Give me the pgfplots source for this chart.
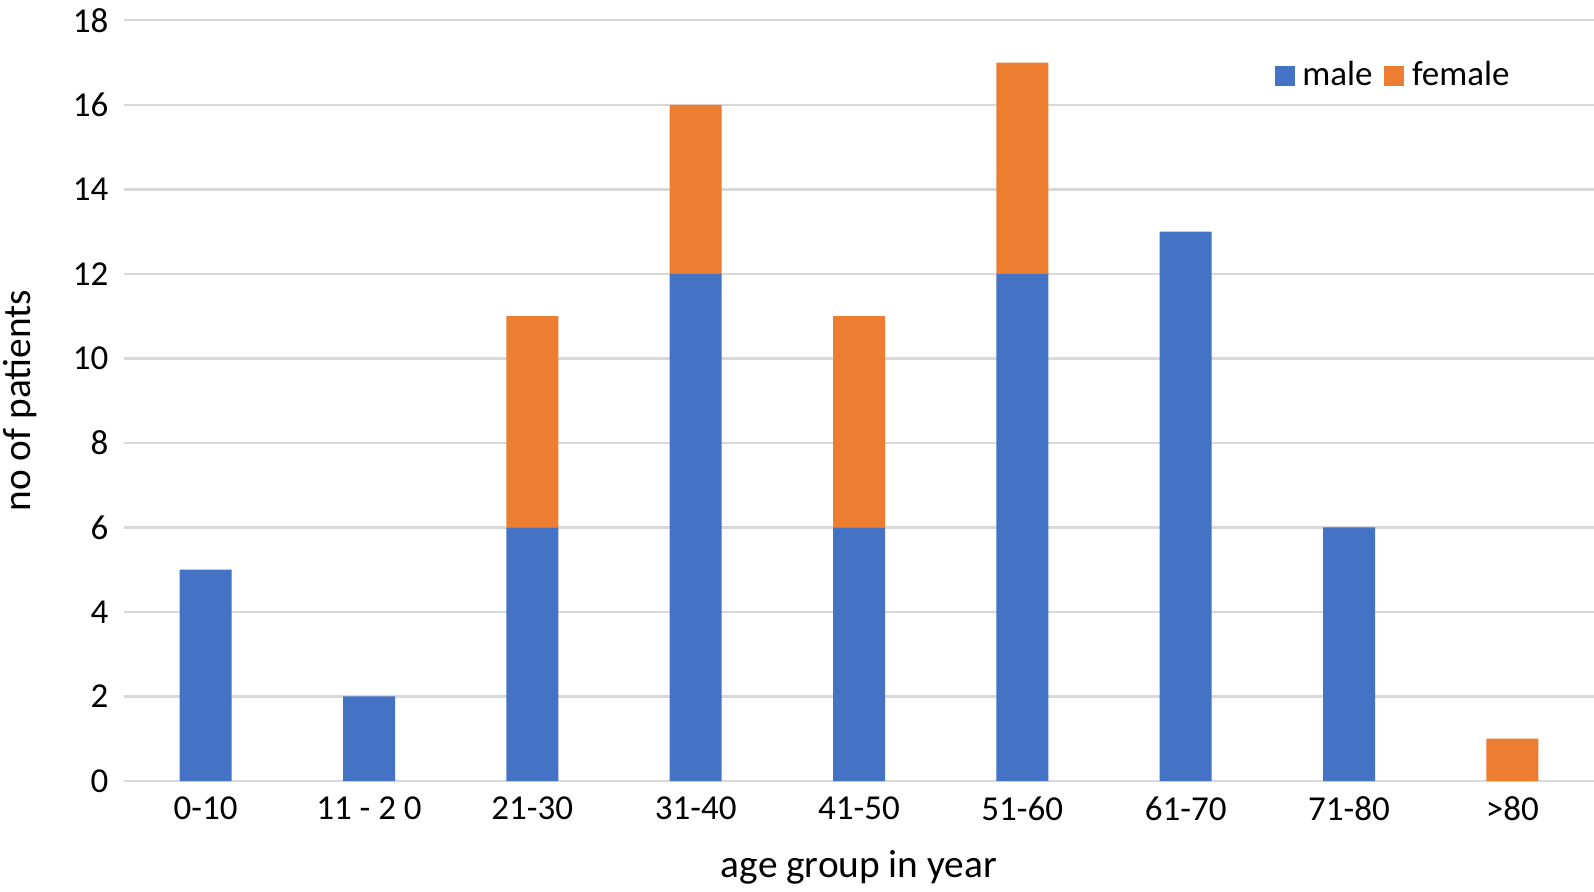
\documentclass[border=0pt]{standalone}
\usepackage{fontspec}
\setmainfont{Carlito}
\usepackage{pgfplots}
\pgfplotsset{compat=1.18}
\definecolor{maleblue}{HTML}{4472C4}
\definecolor{femaleorange}{HTML}{ED7D31}
\definecolor{gridgray}{HTML}{D9D9D9}
\newcommand{\ticksize}{\fontsize{10.5}{12.6}\selectfont}
\newcommand{\labelsize}{\fontsize{11.8}{14}\selectfont}
\begin{document}
\begin{tikzpicture}
\begin{axis}[
  at={(0,0)}, anchor=south west,
  scale only axis, width=441pt, height=228.2pt,
  ybar stacked, bar width=15.6pt,
  xmin=-0.5, xmax=8.5, ymin=0, ymax=18,
  xtick={0,1,2,3,4,5,6,7,8},
  xticklabels={0-10,{11 - 2 0},21-30,31-40,41-50,51-60,61-70,71-80,>80},
  ytick={0,2,4,6,8,10,12,14,16,18},
  ymajorgrids, major grid style={draw=gridgray, line width=0.7pt},
  axis line style={draw=none},
  major tick length=0pt,
  tick label style={font=\ticksize, inner sep=0pt},
  /pgf/number format/assume math mode=true,
  yticklabel style={anchor=east, xshift=-4.5pt},
  xticklabel style={anchor=north, yshift=-4.5pt},
  xlabel={age group in year}, ylabel={no of patients},
  label style={font=\labelsize},
  xlabel style={at={(axis description cs:0.5,-0.113)}, anchor=center},
  ylabel style={at={(axis description cs:-0.0707,0.5)}, anchor=center},
  legend columns=2,
  legend style={draw=none, fill=none, inner sep=0pt, font=\ticksize,
    at={(axis description cs:0.7823,0.927)}, anchor=west,
    nodes={inner sep=0pt},
    /tikz/every odd column/.append style={column sep=2.3pt},
    /tikz/every even column/.append style={column sep=3.6pt}},
  legend image code/.code={\fill[#1] (0pt,-3pt) rectangle (6pt,3pt);},
]
\addplot[fill=maleblue, draw=none] coordinates {(0,5) (1,2) (2,6) (3,12) (4,6) (5,12) (6,13) (7,6) (8,0)};
\addplot[fill=femaleorange, draw=none] coordinates {(0,0) (1,0) (2,5) (3,4) (4,5) (5,5) (6,0) (7,0) (8,1)};
\legend{male, female}
\end{axis}
\pgfresetboundingbox
\useasboundingbox (-37.2pt,-33pt) rectangle (441pt,234.3pt);
\end{tikzpicture}
\end{document}
